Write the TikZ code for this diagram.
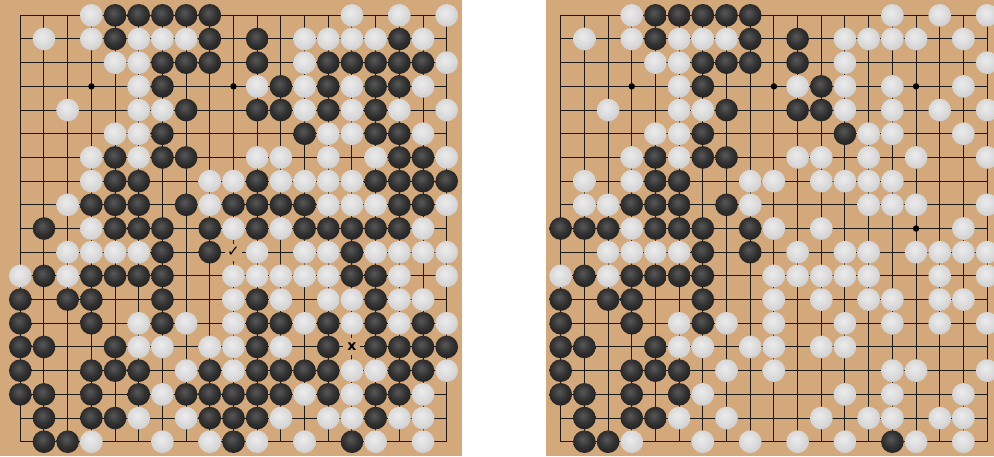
\documentclass[tikz,border=0pt]{standalone}
\usepackage{fontspec}
\newfontfamily\dejavu{DejaVu Sans}
\definecolor{boardtan}{RGB}{211,169,124}
\definecolor{bstA}{RGB}{88,88,88}
\definecolor{bstB}{RGB}{48,48,48}
\definecolor{bstC}{RGB}{10,10,10}
\definecolor{wstA}{RGB}{236,236,236}
\definecolor{wstB}{RGB}{215,215,215}
\definecolor{wstC}{RGB}{180,180,180}
\pgfdeclareradialshading{bst}{\pgfpoint{-4bp}{6bp}}{color(0bp)=(bstA); color(18bp)=(bstB); color(48bp)=(bstC); color(80bp)=(bstC)}
\pgfdeclareradialshading{wst}{\pgfpoint{-4bp}{6bp}}{color(0bp)=(wstA); color(22bp)=(wstB); color(52bp)=(wstC); color(80bp)=(wstC)}
\newcommand\stonerow[3]{\foreach \c in {#3}{\shade[shading=#1] (\c,#2) circle (11.3pt);}}
\newcommand\boardgrid{%
  \foreach \i in {0,...,18}{\draw[gridline] (\i,0) -- (\i,18); \draw[gridline] (0,\i) -- (18,\i);}
  \draw[gridline] (0,0) rectangle (18,18);
  \foreach \i in {3,9,15}{\foreach \j in {3,9,15}{\fill[black] (\i,\j) circle (3.2pt);}}}
\tikzset{
  gridline/.style={draw=black!90, line width=1pt},
  boardpos/.style={x=23.69pt, y=-23.69pt},
  markbox/.style={fill=boardtan, inner sep=0pt, minimum size=17pt, text=black}
}
\begin{document}
\begin{tikzpicture}[x=1pt,y=-1pt]
\path[use as bounding box] (0,0) rectangle (994,456);
\clip (0,0) rectangle (994,456);
\fill[white] (0,0) rectangle (994,456);
\fill[boardtan] (0,0) rectangle (462,456);
\fill[boardtan] (546,0) rectangle (1010,456);
% ---------- Board 1 ----------
\begin{scope}[shift={(20.3pt,-15.3pt)}, boardpos]
\boardgrid
\stonerow{bst}{0}{4,5,6,7,8}
\stonerow{bst}{1}{4,8,10,16}
\stonerow{bst}{2}{6,7,8,10,13,14,15,16,17}
\stonerow{bst}{3}{6,11,13,15,16}
\stonerow{bst}{4}{7,10,11,13,15}
\stonerow{bst}{5}{6,12,15,16}
\stonerow{bst}{6}{4,6,7,16,17}
\stonerow{bst}{7}{4,5,10,15,16,17,18}
\stonerow{bst}{8}{3,4,5,7,9,10,11,12,16,17}
\stonerow{bst}{9}{1,4,5,6,8,10,12,13,14,15,16}
\stonerow{bst}{10}{6,8,14}
\stonerow{bst}{11}{1,3,4,5,6,14,15}
\stonerow{bst}{12}{0,2,3,6,10,15}
\stonerow{bst}{13}{0,3,6,10,11,13,15,17}
\stonerow{bst}{14}{0,1,4,10,13,15,16,17,18}
\stonerow{bst}{15}{0,3,4,5,8,10,11,12,13,16,17}
\stonerow{bst}{16}{0,1,3,5,7,8,9,10,11,13,15,16}
\stonerow{bst}{17}{1,3,4,8,9,10,15}
\stonerow{bst}{18}{1,2,9,14}
\stonerow{wst}{0}{3,14,16,18}
\stonerow{wst}{1}{1,3,5,6,7,12,13,14,15,17}
\stonerow{wst}{2}{4,5,12,18}
\stonerow{wst}{3}{5,10,12,14,17}
\stonerow{wst}{4}{2,5,6,12,14,16,18}
\stonerow{wst}{5}{4,5,13,14,17}
\stonerow{wst}{6}{3,5,10,11,13,15,18}
\stonerow{wst}{7}{3,8,9,11,12,13,14}
\stonerow{wst}{8}{2,8,13,14,15,18}
\stonerow{wst}{9}{3,9,11,17}
\stonerow{wst}{10}{2,3,4,5,10,12,13,15,16,17,18}
\stonerow{wst}{11}{0,2,9,10,11,12,13,16,18}
\stonerow{wst}{12}{9,11,13,14,16,17}
\stonerow{wst}{13}{5,7,9,12,14,16,18}
\stonerow{wst}{14}{5,6,8,9,11}
\stonerow{wst}{15}{7,9,14,15,18}
\stonerow{wst}{16}{6,12,14,17}
\stonerow{wst}{17}{5,7,11,13,14,16,17}
\stonerow{wst}{18}{3,6,8,10,12,15,17}
\node[markbox, font=\dejavu\fontsize{15}{15}\selectfont] (check) at (9,10) {✓};
\node[markbox, font=\dejavu\bfseries\fontsize{14}{14}\selectfont] (xmark) at (14,14) {x};
\end{scope}
% ---------- Board 2 ----------
\begin{scope}[shift={(560.7pt,-15.3pt)}, boardpos]
\boardgrid
\stonerow{bst}{0}{4,5,6,7,8}
\stonerow{bst}{1}{4,8,10}
\stonerow{bst}{2}{6,7,8,10}
\stonerow{bst}{3}{6,11}
\stonerow{bst}{4}{7,10,11}
\stonerow{bst}{5}{6,12}
\stonerow{bst}{6}{4,6,7}
\stonerow{bst}{7}{4,5}
\stonerow{bst}{8}{3,4,5,7}
\stonerow{bst}{9}{0,1,2,4,5,6,8}
\stonerow{bst}{10}{6,8}
\stonerow{bst}{11}{1,3,4,5,6}
\stonerow{bst}{12}{0,2,3,6}
\stonerow{bst}{13}{0,3,6}
\stonerow{bst}{14}{0,1,4}
\stonerow{bst}{15}{0,3,4,5}
\stonerow{bst}{16}{0,1,3,5}
\stonerow{bst}{17}{1,3,4}
\stonerow{bst}{18}{1,2,14}
\stonerow{wst}{0}{3,14,16,18}
\stonerow{wst}{1}{1,3,5,6,7,12,13,14,15,17}
\stonerow{wst}{2}{4,5,12,18}
\stonerow{wst}{3}{5,10,12,14,17}
\stonerow{wst}{4}{2,5,6,12,14,16,18}
\stonerow{wst}{5}{4,5,13,14,17}
\stonerow{wst}{6}{3,5,10,11,13,15,18}
\stonerow{wst}{7}{1,3,8,9,11,12,13,14}
\stonerow{wst}{8}{1,2,8,13,14,15,18}
\stonerow{wst}{9}{3,9,11,17}
\stonerow{wst}{10}{2,3,4,5,10,12,13,15,16,17,18}
\stonerow{wst}{11}{0,2,9,10,11,12,13,16,18}
\stonerow{wst}{12}{9,11,13,14,16,17}
\stonerow{wst}{13}{5,7,9,12,14,16,18}
\stonerow{wst}{14}{5,6,8,9,11,12}
\stonerow{wst}{15}{7,9,14,15,18}
\stonerow{wst}{16}{6,12,14,17}
\stonerow{wst}{17}{5,7,11,13,14,16,17}
\stonerow{wst}{18}{3,6,8,10,12,15,17}
\end{scope}
\end{tikzpicture}
\end{document}
